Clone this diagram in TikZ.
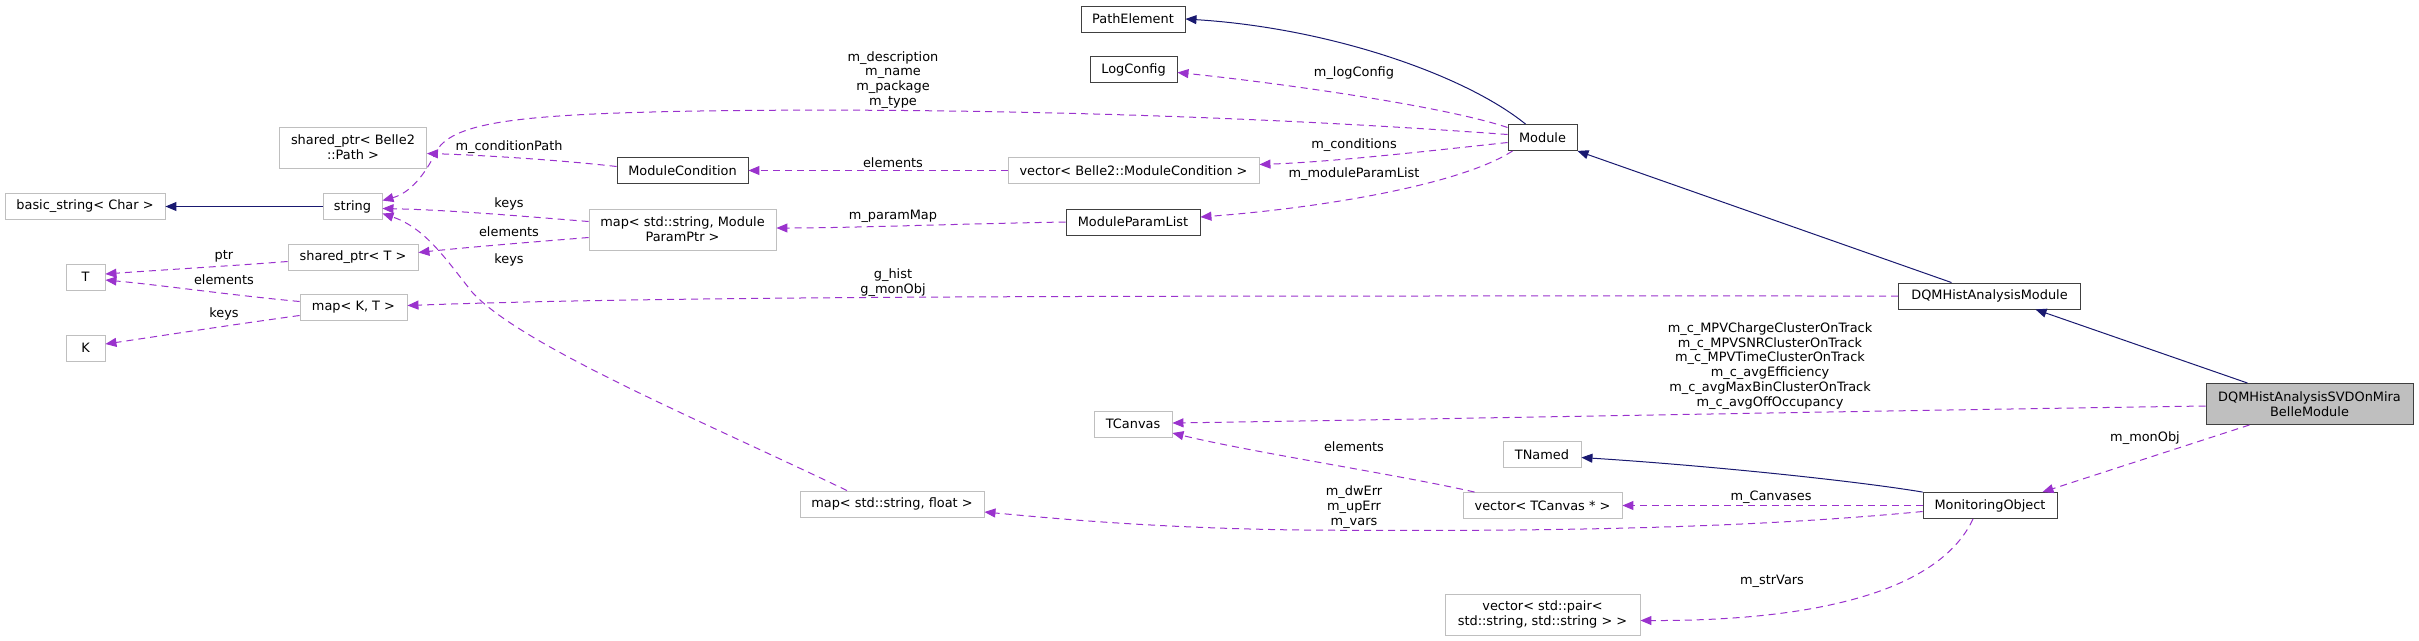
\documentclass[tikz,border=0pt]{standalone}
\usepackage{fontspec}
\setmainfont{DejaVu Sans}
\usetikzlibrary{arrows.meta,calc}
\definecolor{depc}{HTML}{9A32CD}
\definecolor{inhc}{HTML}{191970}
\definecolor{undoc}{HTML}{BFBFBF}
\definecolor{docb}{HTML}{404040}
\begin{document}
\begin{tikzpicture}[x=1pt,y=-1pt,
  every node/.style={font=\fontsize{12.9}{14.8}\selectfont, inner sep=0pt, text=black},
  box/.style={rectangle, draw=docb, line width=0.9pt, fill=white, minimum height=26pt, align=center},
  ubox/.style={box, draw=undoc},
  mbox/.style={box, fill=undoc, draw=docb},
  inhe/.style={draw=inhc, line width=1pt, -{Triangle[length=11pt,width=9pt]}},
  depe/.style={draw=depc, line width=1pt, dash pattern=on 7pt off 5pt, -{Triangle[length=11pt,width=9pt]}},
  lbl/.style={align=center}
]
\useasboundingbox (0,0) rectangle (2419,640);
% nodes
\node[ubox, minimum width=160pt] (basic) at (85,206.5) {basic\_string< Char >};
\node[ubox, minimum width=59pt] (string) at (352.5,206.5) {string};
\node[ubox, minimum width=147pt, minimum height=41pt] (sppath) at (353,147.5) {shared\_ptr< Belle2\\::Path >};
\node[ubox, minimum width=130pt] (spT) at (353,257.5) {shared\_ptr< T >};
\node[ubox, minimum width=39pt] (T) at (85.5,277) {T};
\node[ubox, minimum width=39pt] (K) at (85.5,348) {K};
\node[ubox, minimum width=107pt] (mapKT) at (353.5,307.5) {map< K, T >};
\node[box, minimum width=131pt] (modcond) at (682.5,170.5) {ModuleCondition};
\node[ubox, minimum width=187pt, minimum height=41pt] (mapParam) at (682.5,229.5) {map< std::string, Module\\ParamPtr >};
\node[box, minimum width=104pt] (pathel) at (1133,19) {PathElement};
\node[box, minimum width=87pt] (logcfg) at (1133.5,69.5) {LogConfig};
\node[ubox, minimum width=251pt] (vecMC) at (1133.5,170.5) {vector< Belle2::ModuleCondition >};
\node[box, minimum width=134pt] (mpl) at (1133,222) {ModuleParamList};
\node[ubox, minimum width=78pt] (tcanvas) at (1133,424) {TCanvas};
\node[ubox, minimum width=184pt] (mapSF) at (892,504) {map< std::string, float >};
\node[box, minimum width=69pt] (module) at (1542.5,137.5) {Module};
\node[ubox, minimum width=78pt] (tnamed) at (1542,454.5) {TNamed};
\node[ubox, minimum width=159pt] (vecTC) at (1542.5,505.5) {vector< TCanvas * >};
\node[ubox, minimum width=195pt, minimum height=41pt] (vecPair) at (1542.5,614.5) {vector< std::pair<\\ std::string, std::string > >};
\node[box, minimum width=182pt] (dqm) at (1989.5,296) {DQMHistAnalysisModule};
\node[box, minimum width=134pt] (monobj) at (1990,505.5) {MonitoringObject};
\node[mbox, minimum width=207pt, minimum height=41pt] (svd) at (2309.5,404) {DQMHistAnalysisSVDOnMira\\BelleModule};
% inheritance edges
\draw[inhe] (string) -- (basic);
\draw[inhe] ($(module.north)+(-17,0)$) .. controls (1465,75) and (1330,28) .. (pathel.east);
\draw[inhe] ($(dqm.north)+(-38,0)$) -- (module.south east);
\draw[inhe] ($(svd.north)+(-62,0)$) -- ($(dqm.south)+(46,0)$);
\draw[inhe] (monobj.north west) .. controls (1850,480) and (1700,465) .. ($(tnamed.east)+(0,3)$);
% usage edges
\draw[depe] ($(module.west)+(0,-10)$) .. controls (1440,105) and (1270,82) .. ($(logcfg.east)+(0,3)$);
\draw[depe] ($(module.west)+(0,-3)$) .. controls (1200,112) and (900,108) .. (700,111) .. controls (520,114) and (455,122) .. (437,150) .. controls (425,175) and (410,193) .. ($(string.east)+(0,-6)$);
\draw[depe] ($(module.west)+(0,5)$) .. controls (1420,152) and (1330,162) .. ($(vecMC.east)+(0,-6)$);
\draw[depe] ($(module.south west)+(5,0)$) .. controls (1460,185) and (1320,208) .. ($(mpl.east)+(0,-5)$);
\draw[depe] (vecMC) -- (modcond);
\draw[depe] ($(modcond.west)+(0,-4)$) .. controls (560,160) and (480,155) .. ($(sppath.east)+(0,6)$);
\draw[depe] (mpl.west) .. controls (950,224) and (850,228) .. ($(mapParam.east)+(0,-1.5)$);
\draw[depe] ($(mapParam.west)+(0,-8)$) .. controls (520,216) and (450,210) .. ($(string.east)+(0,2)$);
\draw[depe] ($(mapParam.west)+(0,8)$) .. controls (520,243) and (460,248) .. ($(spT.east)+(0,-5)$);
\draw[depe] ($(mapSF.north)+(-45,0)$) .. controls (700,420) and (520,345) .. (472,292) .. controls (445,258) and (425,228) .. ($(string.east)+(0,7)$);
\draw[depe] ($(mapKT.west)+(0,-6)$) .. controls (230,295) and (160,285) .. ($(T.east)+(0,3)$);
\draw[depe] ($(mapKT.west)+(0,8)$) .. controls (230,325) and (160,336) .. ($(K.east)+(0,-4)$);
\draw[depe] ($(spT.west)+(0,4)$) .. controls (230,266) and (160,270) .. ($(T.east)+(0,-3)$);
\draw[depe] (dqm.west) .. controls (1200,296) and (700,295) .. ($(mapKT.east)+(0,-2)$);
\draw[depe] ($(svd.west)+(0,2)$) .. controls (1800,412) and (1500,418) .. ($(tcanvas.east)+(0,-1)$);
\draw[depe] ($(vecTC.north west)+(12,0)$) .. controls (1400,475) and (1250,452) .. ($(tcanvas.east)+(0,9)$);
\draw[depe] (monobj) -- (vecTC);
\draw[depe] ($(monobj.west)+(0,6)$) .. controls (1750,528) and (1550,532) .. (1300,530) .. controls (1150,528) and (1050,518) .. ($(mapSF.east)+(0,8)$);
\draw[depe] ($(monobj.south)+(-17,0)$) .. controls (1940,590) and (1820,621) .. ($(vecPair.east)+(0,6)$);
\draw[depe] ($(svd.south)+(-60,0)$) -- ($(monobj.north east)+(-15,0)$);
% labels
\node[lbl] (l1) at (1354,73) {m\_logConfig};
\node[lbl] (l2) at (893,80) {m\_description\\m\_name\\m\_package\\m\_type};
\node[lbl] (l3) at (1354,145) {m\_conditions};
\node[lbl] (l4) at (1354,174) {m\_moduleParamList};
\node[lbl] (l5) at (893,163) {elements};
\node[lbl] (l6) at (509,147) {m\_conditionPath};
\node[lbl] (l7) at (893,216) {m\_paramMap};
\node[lbl] (l8) at (509,204) {keys};
\node[lbl] (l9) at (509,232) {elements};
\node[lbl] (l10) at (509,260) {keys};
\node[lbl] (l11) at (224,280) {elements};
\node[lbl] (l12) at (224,314) {keys};
\node[lbl] (l13) at (224,256) {ptr};
\node[lbl] (l14) at (893,283) {g\_hist\\g\_monObj};
\node[lbl] (l15) at (1770,366) {m\_c\_MPVChargeClusterOnTrack\\m\_c\_MPVSNRClusterOnTrack\\m\_c\_MPVTimeClusterOnTrack\\m\_c\_avgEfficiency\\m\_c\_avgMaxBinClusterOnTrack\\m\_c\_avgOffOccupancy};
\node[lbl] (l16) at (1354,447) {elements};
\node[lbl] (l17) at (1771,497) {m\_Canvases};
\node[lbl] (l18) at (1354,507) {m\_dwErr\\m\_upErr\\m\_vars};
\node[lbl] (l19) at (1772,581) {m\_strVars};
\node[lbl] (l20) at (2145,438) {m\_monObj};
\end{tikzpicture}
\end{document}
